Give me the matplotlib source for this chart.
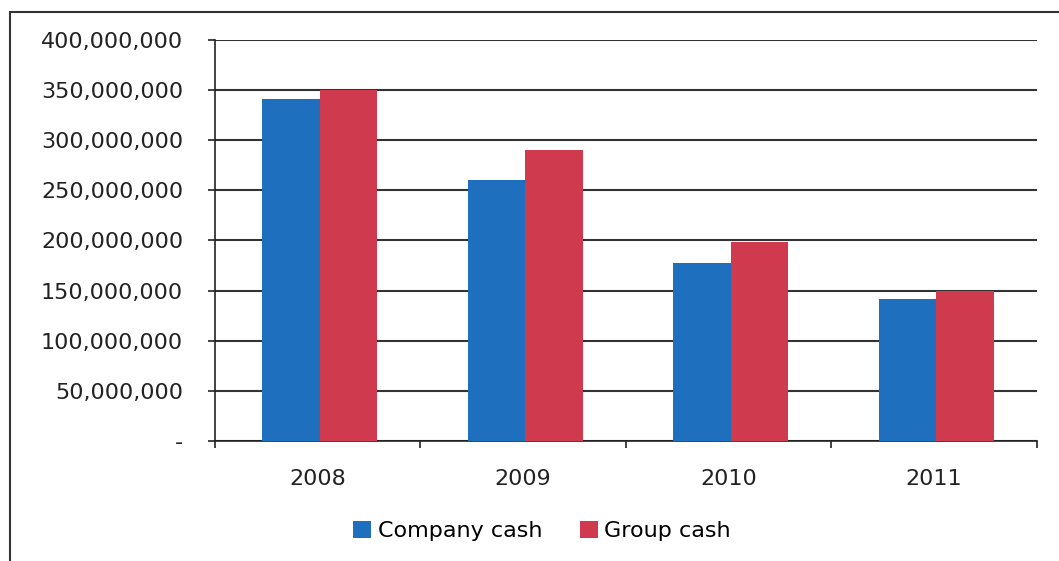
import numpy as np
import matplotlib.pyplot as plt
from matplotlib.patches import Rectangle
from matplotlib.ticker import FuncFormatter

years = ["2008", "2009", "2010", "2011"]
company_cash = [341e6, 260e6, 177e6, 142e6]
group_cash = [350e6, 290e6, 198e6, 150e6]

blue = "#1f6fbf"
red = "#cf3a4e"

fig = plt.figure(figsize=(10.59, 5.61), dpi=100)
ax = fig.add_axes([0.203, 0.214, 0.776, 0.715])

# outer chart frame (right and bottom edges fall outside the picture)
fig.patches.append(Rectangle((0.009, -0.05), 1.05, 1.029, transform=fig.transFigure,
                             fill=False, ec="#333333", lw=1.5))

x = np.arange(len(years))
w = 0.28
ax.bar(x - w / 2 + 0.01, company_cash, w, color=blue, label="Company cash", zorder=3)
ax.bar(x + w / 2 + 0.01, group_cash, w, color=red, label="Group cash", zorder=3)

ax.set_xlim(-0.5, len(years) - 0.5)
ax.set_ylim(0, 400e6)
ax.set_yticks(np.arange(0, 400e6 + 1, 50e6))
ax.yaxis.set_major_formatter(FuncFormatter(lambda v, p: "-" if v == 0 else f"{v:,.0f}"))
ax.set_xticks(x)
ax.set_xticklabels(years)
ax.set_xticks(np.arange(-0.5, len(years)), minor=True)
ax.tick_params(axis="x", which="major", length=0, pad=20, labelsize=16, colors="#222222")
ax.tick_params(axis="x", which="minor", length=5, width=1.2, color="#222222")
ax.tick_params(axis="y", length=5, width=1.2, pad=18, labelsize=16, colors="#222222")

ax.grid(axis="y", color="#333333", lw=1.5, zorder=0)
for s in ("top", "right"):
    ax.spines[s].set_visible(False)
ax.spines["left"].set_color("#222222")
ax.spines["bottom"].set_color("#222222")
ax.spines["left"].set_linewidth(1.2)
ax.spines["bottom"].set_linewidth(1.2)

ax.legend(loc="center", bbox_to_anchor=(0.398, -0.224), ncol=2, frameon=False,
          fontsize=16, handlelength=0.8, handleheight=0.8, handletextpad=0.3,
          columnspacing=1.7)

fig.savefig("out.png", dpi=100)
